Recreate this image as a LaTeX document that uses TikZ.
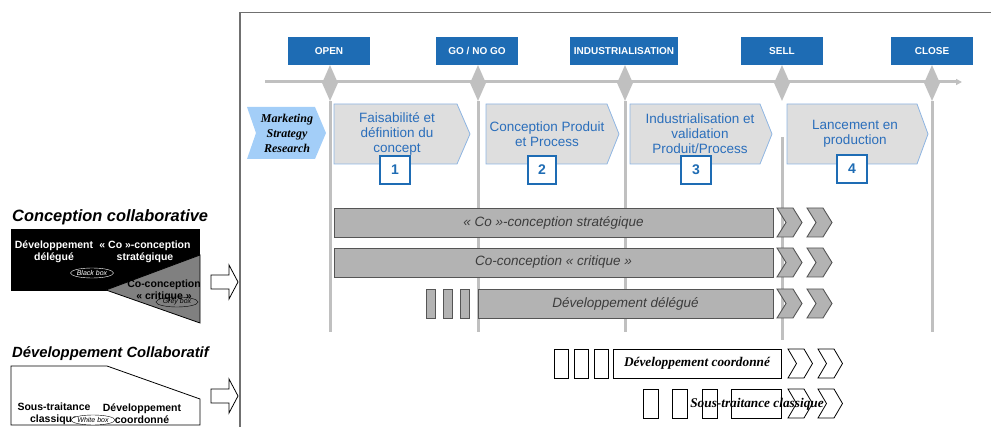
\documentclass[tikz,border=0pt]{standalone}
\usepackage{fontspec}
\setmainfont{Liberation Sans}
\newfontfamily\serifit{Liberation Serif}
\usetikzlibrary{shapes.geometric,arrows.meta}

\definecolor{milestoneblue}{HTML}{1E6CB4}
\definecolor{phaseblue}{HTML}{2A6EBB}
\definecolor{phasegray}{HTML}{DEDEDE}
\definecolor{phaseborder}{HTML}{8DB4E2}
\definecolor{marketblue}{HTML}{A3CEF8}
\definecolor{railgray}{HTML}{C0C0C0}
\definecolor{bargray}{HTML}{B3B3B3}
\definecolor{baredge}{HTML}{555555}
\definecolor{bartextgray}{HTML}{3C3C3C}
\definecolor{framegray}{HTML}{707070}
\definecolor{greybox}{HTML}{808080}

\begin{document}
\begin{tikzpicture}[x=1pt,y=-1pt,
    milestone/.style={fill=milestoneblue, text=white, font=\bfseries\fontsize{10}{11}\selectfont, minimum width=82, minimum height=28, inner sep=0pt},
    gate/.style={diamond, fill=railgray, minimum width=16, minimum height=36, inner sep=0pt},
    rail/.style={railgray, line width=3},
    phase/.style={fill=phasegray, draw=phaseborder, line width=0.8},
    phasetext/.style={text=phaseblue, align=center, font=\fontsize{13.5}{15}\selectfont},
    stepnum/.style={draw=milestoneblue, line width=1.8, fill=white, text=milestoneblue, font=\bfseries\fontsize{14}{14}\selectfont, minimum width=30, minimum height=28, inner sep=0pt},
    bar/.style={draw=baredge, fill=bargray, line width=0.9},
    bartext/.style={bar, text=bartextgray, font=\itshape\fontsize{13.5}{14}\selectfont, minimum height=29, inner sep=0pt},
    openbox/.style={draw=black, fill=white, line width=0.8},
    opentext/.style={font=\serifit\bfseries\itshape\fontsize{13.3}{14}\selectfont, inner sep=0pt},
    sidetitle/.style={anchor=base west, font=\bfseries\itshape\fontsize{16.4}{17}\selectfont, inner sep=0pt},
    sidetext/.style={align=center, font=\bfseries\fontsize{10.5}{12}\selectfont, inner sep=0pt},
    tag/.style={ellipse, draw, minimum width=42, minimum height=10, inner sep=0pt, font=\itshape\fontsize{7}{7}\selectfont},
    blockarrow/.style={draw=black, fill=white, line width=0.8}
]
\useasboundingbox (0,0) rectangle (991,427);

% frame
\draw[framegray, line width=1.2] (240,427) -- (240,12.5) -- (991,12.5);

% timeline
\coordinate (tstart) at (265,82);
\coordinate (tend) at (962,82);
\draw[rail, -{Triangle[length=6,width=6]}] (tstart) -- (tend);

% milestones
\node[milestone] (mopen) at (329,51) {OPEN};
\node[milestone] (mgo) at (477,51) {GO / NO GO};
\node[milestone, minimum width=108] (mind) at (624,51) {INDUSTRIALISATION};
\node[milestone] (msell) at (782,51) {SELL};
\node[milestone] (mclose) at (932,51) {CLOSE};

\node[gate] (gopen) at (330,83) {};
\node[gate] (ggo) at (478,83) {};
\node[gate] (gind) at (625,83) {};
\node[gate] (gsell) at (782,83) {};
\node[gate] (gclose) at (932,83) {};

% vertical rails
\coordinate (eopen) at (330,332);
\coordinate (ego) at (478,332);
\coordinate (eind) at (625,332);
\coordinate (ssell) at (782,137);
\coordinate (esell) at (782,340);
\coordinate (eclose) at (932,332);
\draw[rail] (gopen.south) -- (eopen);
\draw[rail] (ggo.south) -- (ego);
\draw[rail] (gind.south) -- (eind);
\draw[rail] (ssell) -- (esell);
\draw[rail] (gclose.south) -- (eclose);

% phases
\fill[marketblue] (247,107) -- (315,107) -- (326,133) -- (315,159) -- (247,159) -- (256,133) -- cycle;
\node[align=center, font=\serifit\bfseries\itshape\fontsize{12}{15}\selectfont] (market) at (287,133) {Marketing\\Strategy\\Research};

\draw[phase] (334,104) -- (457,104) -- (470,134) -- (457,164) -- (334,164) -- cycle;
\node[phasetext] (pfeas) at (397,134) {Faisabilité et\\définition du\\concept};
\node[stepnum] (n1) at (395,170) {1};

\draw[phase] (486,104) -- (607,104) -- (619,134) -- (607,164) -- (486,164) -- cycle;
\node[phasetext] (pconc) at (547,134) {Conception Produit\\et Process};
\node[stepnum, minimum width=28] (n2) at (542,170) {2};

\draw[phase] (630,104) -- (760,104) -- (772,134) -- (760,164) -- (630,164) -- cycle;
\node[phasetext] (pindus) at (700,134) {Industrialisation et\\validation\\Produit/Process};
\node[stepnum] (n3) at (696,170) {3};

\draw[phase] (787,104) -- (917,104) -- (928,134) -- (917,164) -- (787,164) -- cycle;
\node[phasetext] (plance) at (855,134) {Lancement en\\production};
\node[stepnum] (n4) at (852,169) {4};

% conception collaborative bars
\node[bartext, minimum width=439] (bstrat) at (553.5,222.5) {« Co »-conception stratégique};
\node[bartext, minimum width=439] (bcrit) at (553.5,262.5) {Co-conception « critique »};
\foreach \xa in {426,443,460}
    \draw[bar] (\xa,289) rectangle ++(9,29);
\node[bartext, minimum width=295] (bdeleg) at (625.5,303.5) {Développement délégué};
\foreach \yt in {208,248,289}
    \foreach \xo in {777,807}
        \draw[bar] (\xo,\yt) -- ++(16,0) -- ++(9,14.5) -- ++(-9,14.5) -- ++(-16,0) -- ++(9,-14.5) -- cycle;

% developpement collaboratif bars
\foreach \xa in {554,574,594}
    \draw[openbox] (\xa,349) rectangle ++(14,29);
\node[openbox, opentext, minimum width=168, minimum height=29] (bcoord) at (697,363.5) {Développement coordonné};
\foreach \xa in {643,672,702}
    \draw[openbox] (\xa,389) rectangle ++(15,29);
\draw[openbox] (731,389) rectangle (781,418);
\foreach \yt in {349,389}
    \foreach \xo in {788,818}
        \draw[openbox] (\xo,\yt) -- ++(16,0) -- ++(8.5,14.5) -- ++(-8.5,14.5) -- ++(-16,0) -- ++(8.5,-14.5) -- cycle;
\node[opentext] (bsous) at (757,404) {Sous-traitance classique};

% left: conception collaborative
\node[sidetitle] (tconc) at (12,222) {Conception collaborative};
\fill[black] (11,229) rectangle (200,291);
\draw[fill=greybox, line width=0.8] (106,290) -- (200,255) -- (200,323) -- cycle;
\node[sidetext, text=white] (sdeleg) at (54,252) {Développement\\délégué};
\node[sidetext, text=white] (sstrat) at (145,252) {« Co »-conception\\stratégique};
\node[tag, draw=white, text=white] (tblack) at (92,273) {Black box};
\node[sidetext] (scrit) at (164,291) {Co-conception\\« critique »};
\node[tag] (tgrey) at (177,302) {Grey box};
\draw[blockarrow] (211,275) -- (229,275) -- (229,265) -- (238,282) -- (229,299) -- (229,289) -- (211,289) -- cycle;

% left: developpement collaboratif
\node[sidetitle, font=\bfseries\itshape\fontsize{14.8}{15}\selectfont] (tdev) at (12,358) {Développement Collaboratif};
\draw[openbox] (11,366) -- (107,366) -- (200,399) -- (200,425) -- (11,425) -- cycle;
\node[sidetext] (ssous) at (54,414) {Sous-traitance\\classique};
\node[sidetext] (scoord) at (142,414) {Développement\\coordonné};
\node[tag, fill=white] (twhite) at (93,420) {White box};
\draw[blockarrow] (211,389) -- (229,389) -- (229,379) -- (238,396) -- (229,413) -- (229,403) -- (211,403) -- cycle;
\end{tikzpicture}
\end{document}
